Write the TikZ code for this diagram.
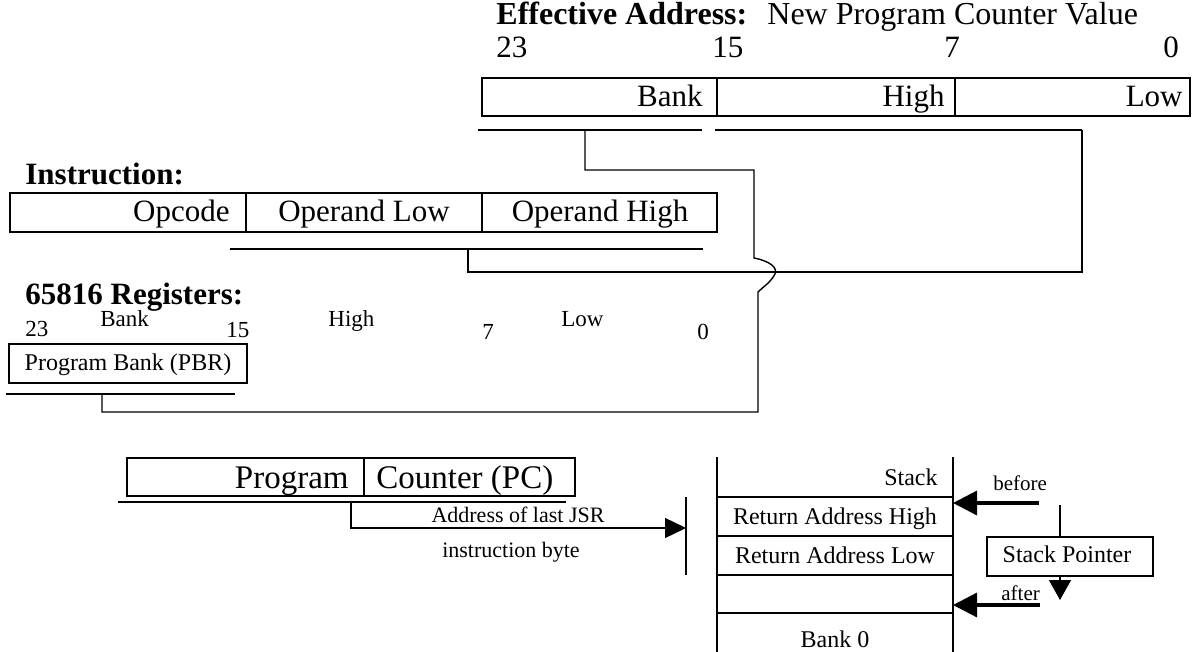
\documentclass[tikz,border=0pt]{standalone}
\usepackage{fontspec}
\setmainfont{Liberation Serif}
\usetikzlibrary{arrows.meta}
\tikzset{
  box/.style={line width=1pt},
  conn/.style={line width=0.7pt},
  t/.style={inner sep=0pt, font=\fontsize{15.5}{18}\selectfont},
  ttl/.style={inner sep=0pt, font=\fontsize{16}{19}\selectfont},
  tpc/.style={inner sep=0pt, font=\fontsize{16.5}{19}\selectfont},
  tb/.style={inner sep=0pt, font=\fontsize{15.5}{18}\selectfont\bfseries},
  tbt/.style={inner sep=0pt, font=\fontsize{16}{19}\selectfont\bfseries},
  ts/.style={inner sep=0pt, font=\fontsize{12}{14}\selectfont},
  tr/.style={inner sep=0pt, font=\fontsize{11.5}{14}\selectfont},
  tx/.style={inner sep=0pt, font=\fontsize{10.5}{12}\selectfont},
  tj/.style={inner sep=0pt, font=\fontsize{11}{13}\selectfont},
  bigarrow/.style={line width=1.6pt, -{Triangle[length=12pt,width=12pt]}},
}
\begin{document}
\begin{tikzpicture}[x=0.5pt,y=-0.5pt]
\useasboundingbox (0,0) rectangle (1194,652);

% ---- Effective address ----
\node[tbt, anchor=base west] (ea) at (496,25) {Effective Address:};
\node[ttl, anchor=base west] (eav) at (767,25) {New Program Counter Value};
\node[t, anchor=base west] (n23a) at (496,58) {23};
\node[t, anchor=base west] (n15a) at (712,58) {15};
\node[t, anchor=base west] (n7a) at (944,58) {7};
\node[t, anchor=base west] (n0a) at (1163,58) {0};
\draw[box] (482,78) rectangle (1190,116);
\draw[box] (717,78) -- (717,116) (955,78) -- (955,116);
\node[t, anchor=base east] (eabank) at (703,107) {Bank};
\node[t, anchor=base east] (eahigh) at (945,107) {High};
\node[t, anchor=base east] (ealow) at (1183,107) {Low};
\coordinate (bankline) at (585,130);
\coordinate (hlline) at (1082,130);
\draw[conn] (478,130) -- (702,130);
\draw[conn] (715,130) -- (hlline);

% ---- Instruction ----
\node[tb, anchor=base west] (instr) at (25,185) {Instruction:};
\draw[box] (10,193) rectangle (717,232);
\draw[box] (246,193) -- (246,232) (482,193) -- (482,232);
\node[t, anchor=base east] (opc) at (230,222) {Opcode};
\node[t, anchor=base] (opl) at (364,222) {Operand Low};
\node[t, anchor=base] (oph) at (600,222) {Operand High};
\coordinate (opline) at (468,249);
\draw[conn] (230,249) -- (703,249);

% ---- Registers ----
\node[tb, anchor=base west] (regs) at (25,305) {65816 Registers:};
\node[tr, anchor=base west] (r23) at (25,336) {23};
\node[tr, anchor=base west] (rbank) at (100,327) {Bank};
\node[tr, anchor=base west] (r15) at (226,337) {15};
\node[tr, anchor=base west] (rhigh) at (328,327) {High};
\node[tr, anchor=base west] (r7) at (482,339) {7};
\node[tr, anchor=base west] (rlow) at (561,327) {Low};
\node[tr, anchor=base west] (r0) at (697,339) {0};
\draw[box] (9,344) rectangle (247,383);
\node[ts, anchor=base] (pbr) at (128,371) {Program Bank (PBR)};
\coordinate (pbrline) at (102,394);
\draw[conn] (6,394) -- (235,394);

% ---- connectors ----
\draw[conn] (bankline) -- (585,170) -- (754,170) -- (754,258)
  .. controls (770,261) and (778,268) .. (775,274)
  .. controls (771,282) and (763,287) .. (758,292)
  -- (758,412) -- (102,412) -- (pbrline);
\draw[conn] (hlline) -- (1082,272) -- (468,272) -- (opline);

% ---- Program counter ----
\draw[box] (127,458) rectangle (575,496);
\draw[box] (364,458) -- (364,496);
\node[tpc, anchor=base east] (pcl) at (349,488) {Program};
\node[tpc, anchor=base west] (pcr) at (376,488) {Counter (PC)};
\coordinate (pcline) at (351,502);
\draw[conn] (118,502) -- (566,502);
\coordinate (jsrbar) at (686,528);
\draw[conn] (686,497) -- (686,575);
\draw[conn, -{Triangle[length=10.5pt,width=10pt]}] (pcline) -- (351,528) -- (jsrbar);
\node[tj, anchor=base] (jsr1) at (518,522) {Address of last JSR};
\node[tj, anchor=base] (jsr2) at (511,557) {instruction byte};

% ---- Stack ----
\draw[box] (717,457) -- (717,652) (953,457) -- (953,652);
\draw[box] (717,497) -- (953,497) (717,536) -- (953,536)
           (717,575) -- (953,575) (717,613) -- (953,613);
\node[ts, anchor=base east] (stk) at (938,485) {Stack};
\node[ts, anchor=base] (rah) at (835,524) {Return Address High};
\node[ts, anchor=base] (ral) at (835,563) {Return Address Low};
\node[ts, anchor=base] (bank0) at (835,647) {Bank 0};

\coordinate (stkbefore) at (953,503);
\coordinate (stkafter) at (953,605);
\node[tx, anchor=base west] (before) at (993,490) {before};
\node[tx, anchor=base west] (after) at (1001,600) {after};
\draw[bigarrow] (1039,503) -- (stkbefore);
\draw[bigarrow] (1040,605) -- (stkafter);
\node[box, draw, minimum width=83pt, minimum height=19.5pt, anchor=north west, inner sep=0pt] (sp) at (986,536) {};
\node[ts, anchor=base] (sptext) at (1067,562) {Stack Pointer};
\draw[conn] (1060,505) -- (sp.north -| 1060,0);
\draw[conn, -{Triangle[length=10pt,width=11pt]}] (sp.south -| 1060,0) -- (1060,600);
\end{tikzpicture}
\end{document}
